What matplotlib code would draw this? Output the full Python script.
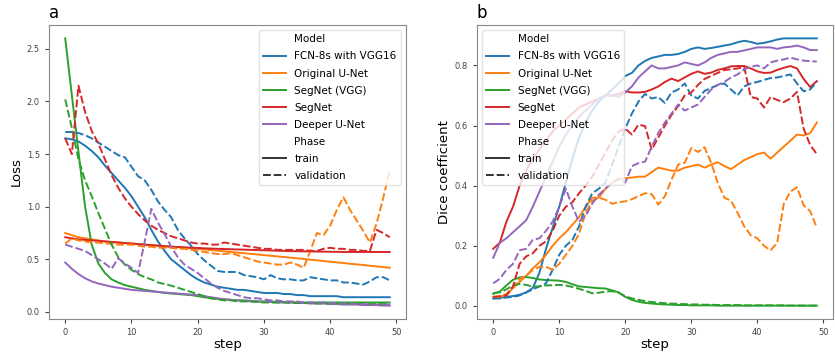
import matplotlib
matplotlib.use("Agg")
import matplotlib.pyplot as plt
from matplotlib.lines import Line2D
import numpy as np

steps = list(range(50))
models = ["FCN-8s with VGG16", "Original U-Net", "SegNet (VGG)", "SegNet", "Deeper U-Net"]
colors = ["#1f77b4", "#ff7f0e", "#2ca02c", "#d62728", "#9467bd"]

# ---------------- Panel a: Loss ----------------
fcn_train_loss = [1.65,1.64,1.62,1.58,1.53,1.47,1.39,1.32,1.25,1.18,1.10,1.00,0.90,0.78,0.67,0.58,0.50,0.45,0.40,0.35,
                  0.31,0.28,0.26,0.24,0.23,0.22,0.21,0.21,0.20,0.19,0.18,0.18,0.18,0.17,0.17,0.16,0.16,0.15,0.15,0.15,
                  0.15,0.15,0.14,0.14,0.14,0.14,0.14,0.14,0.14,0.14]
fcn_val_loss = [1.71,1.71,1.70,1.68,1.65,1.61,1.57,1.53,1.49,1.47,1.38,1.29,1.25,1.16,1.05,0.97,0.90,0.78,0.70,0.63,
                0.55,0.49,0.44,0.39,0.38,0.38,0.38,0.35,0.34,0.33,0.31,0.35,0.32,0.31,0.31,0.30,0.30,0.33,0.32,0.31,
                0.30,0.30,0.28,0.28,0.27,0.26,0.29,0.33,0.33,0.30]
unet_train_loss = [0.75,0.73,0.71,0.70,0.69,0.68,0.67,0.665,0.66,0.655,0.65,0.645,0.64,0.635,0.63,0.625,0.62,0.615,0.61,0.605,
                   0.60,0.594,0.588,0.582,0.576,0.57,0.564,0.558,0.552,0.546,0.54,0.534,0.528,0.522,0.516,0.51,0.504,0.497,0.491,0.484,
                   0.478,0.471,0.465,0.458,0.452,0.446,0.439,0.433,0.426,0.42]
unet_val_loss = [0.65,0.70,0.68,0.67,0.66,0.66,0.65,0.65,0.64,0.64,0.64,0.63,0.62,0.62,0.61,0.61,0.61,0.60,0.60,0.59,
                 0.58,0.57,0.56,0.55,0.55,0.56,0.54,0.52,0.50,0.48,0.47,0.46,0.45,0.45,0.47,0.45,0.42,0.58,0.75,0.73,
                 0.82,0.97,1.09,0.97,0.87,0.77,0.66,0.84,1.08,1.35]
segvgg_train_loss = [2.60,2.06,1.52,1.00,0.64,0.46,0.37,0.31,0.28,0.255,0.24,0.225,0.21,0.20,0.19,0.18,0.175,0.17,0.165,0.16,
                     0.15,0.14,0.13,0.125,0.12,0.115,0.11,0.11,0.105,0.10,0.10,0.10,0.095,0.095,0.095,0.09,0.09,0.09,0.09,0.09,
                     0.09,0.09,0.09,0.09,0.09,0.09,0.09,0.09,0.09,0.09]
segvgg_val_loss = [2.02,1.75,1.45,1.25,1.10,0.94,0.79,0.64,0.52,0.45,0.40,0.36,0.33,0.31,0.28,0.265,0.25,0.23,0.21,0.19,
                   0.17,0.15,0.13,0.12,0.11,0.11,0.10,0.10,0.10,0.095,0.09,0.09,0.09,0.09,0.085,0.085,0.085,0.085,0.08,0.08,
                   0.08,0.08,0.08,0.08,0.08,0.08,0.075,0.075,0.075,0.075]
segnet_train_loss = [0.71,0.70,0.69,0.685,0.68,0.675,0.67,0.665,0.66,0.655,0.65,0.645,0.64,0.635,0.63,0.625,0.62,0.617,0.614,0.611,
                     0.608,0.605,0.602,0.60,0.598,0.596,0.594,0.592,0.59,0.588,0.586,0.584,0.582,0.58,0.578,0.577,0.576,0.575,0.574,0.573,
                     0.572,0.571,0.57,0.57,0.57,0.57,0.57,0.57,0.57,0.57]
segnet_val_loss = [1.65,1.50,2.15,1.90,1.72,1.60,1.45,1.30,1.18,1.08,1.00,0.93,0.87,0.82,0.78,0.75,0.72,0.70,0.68,0.66,
                   0.65,0.65,0.64,0.64,0.66,0.65,0.64,0.63,0.62,0.61,0.60,0.60,0.59,0.59,0.59,0.59,0.59,0.58,0.58,0.60,
                   0.61,0.60,0.60,0.59,0.59,0.58,0.58,0.78,0.75,0.71]
deeper_train_loss = [0.47,0.41,0.36,0.32,0.29,0.27,0.255,0.24,0.23,0.22,0.21,0.205,0.20,0.195,0.19,0.185,0.18,0.175,0.17,0.165,
                     0.16,0.15,0.14,0.13,0.12,0.115,0.11,0.105,0.10,0.10,0.095,0.095,0.09,0.09,0.09,0.085,0.085,0.08,0.08,0.08,
                     0.075,0.075,0.07,0.07,0.07,0.065,0.065,0.065,0.06,0.06]
deeper_val_loss = [0.64,0.62,0.60,0.58,0.54,0.50,0.46,0.41,0.51,0.46,0.42,0.37,0.67,0.98,0.85,0.74,0.62,0.52,0.45,0.41,
                   0.37,0.32,0.27,0.23,0.20,0.18,0.16,0.14,0.13,0.13,0.12,0.11,0.11,0.10,0.10,0.10,0.09,0.09,0.09,0.09,
                   0.085,0.08,0.08,0.08,0.075,0.075,0.07,0.07,0.07,0.07]

# ---------------- Panel b: Dice coefficient ----------------
fcn_train_dice = [0.025,0.027,0.03,0.033,0.037,0.045,0.06,0.11,0.19,0.26,0.33,0.41,0.49,0.56,0.61,0.65,0.68,0.70,0.72,0.74,
                  0.765,0.775,0.80,0.815,0.825,0.83,0.835,0.835,0.838,0.845,0.855,0.86,0.855,0.858,0.862,0.866,0.87,0.877,0.882,0.878,
                  0.872,0.875,0.88,0.886,0.89,0.89,0.89,0.89,0.89,0.89]
fcn_val_dice = [0.025,0.025,0.028,0.03,0.035,0.045,0.055,0.065,0.075,0.12,0.17,0.20,0.22,0.265,0.33,0.375,0.39,0.41,0.47,0.53,
                0.59,0.64,0.68,0.705,0.69,0.695,0.675,0.71,0.72,0.74,0.70,0.69,0.715,0.725,0.735,0.74,0.72,0.70,0.73,0.74,
                0.745,0.752,0.758,0.76,0.765,0.77,0.74,0.714,0.72,0.745]
unet_train_dice = [0.03,0.032,0.035,0.06,0.08,0.10,0.125,0.145,0.17,0.20,0.225,0.245,0.27,0.295,0.33,0.36,0.36,0.39,0.41,0.42,
                   0.425,0.427,0.43,0.43,0.445,0.46,0.455,0.45,0.45,0.46,0.465,0.47,0.46,0.47,0.478,0.465,0.455,0.47,0.485,0.495,
                   0.505,0.51,0.49,0.51,0.53,0.55,0.57,0.567,0.575,0.61]
unet_val_dice = [0.03,0.03,0.04,0.06,0.09,0.10,0.12,0.13,0.13,0.12,0.14,0.17,0.20,0.24,0.31,0.35,0.36,0.353,0.34,0.345,
                 0.348,0.355,0.365,0.375,0.372,0.337,0.365,0.42,0.47,0.476,0.525,0.512,0.528,0.476,0.41,0.36,0.35,0.31,0.265,0.235,
                 0.225,0.20,0.185,0.21,0.34,0.38,0.395,0.335,0.315,0.26]
segvgg_train_dice = [0.04,0.048,0.068,0.087,0.095,0.096,0.093,0.088,0.086,0.085,0.084,0.08,0.072,0.065,0.063,0.061,0.059,0.058,0.052,0.045,
                     0.03,0.02,0.014,0.01,0.008,0.006,0.005,0.004,0.003,0.003,0.002,0.002,0.002,0.002,0.001,0.001,0.001,0.001,0.001,0.001,
                     0.001,0.001,0.001,0.001,0.001,0.001,0.001,0.001,0.001,0.001]
segvgg_val_dice = [0.043,0.045,0.055,0.068,0.073,0.07,0.064,0.065,0.068,0.069,0.07,0.068,0.063,0.057,0.05,0.042,0.044,0.048,0.049,0.044,
                   0.032,0.025,0.02,0.016,0.013,0.011,0.009,0.008,0.007,0.006,0.005,0.005,0.004,0.004,0.003,0.003,0.003,0.003,0.002,0.002,
                   0.002,0.002,0.002,0.002,0.002,0.001,0.001,0.001,0.001,0.001]
segnet_train_dice = [0.19,0.21,0.28,0.33,0.40,0.45,0.49,0.52,0.55,0.58,0.60,0.62,0.64,0.66,0.67,0.68,0.69,0.70,0.70,0.705,
                     0.714,0.71,0.71,0.712,0.72,0.73,0.745,0.756,0.748,0.76,0.772,0.78,0.772,0.776,0.785,0.79,0.797,0.798,0.798,0.79,
                     0.78,0.775,0.776,0.785,0.792,0.798,0.79,0.755,0.728,0.748]
segnet_val_dice = [0.03,0.032,0.035,0.065,0.14,0.165,0.175,0.20,0.215,0.25,0.30,0.33,0.345,0.375,0.40,0.43,0.47,0.51,0.55,0.58,
                   0.59,0.57,0.603,0.598,0.52,0.56,0.60,0.635,0.665,0.70,0.71,0.735,0.755,0.765,0.775,0.785,0.787,0.79,0.795,0.695,
                   0.69,0.66,0.695,0.685,0.678,0.69,0.712,0.59,0.535,0.505]
deeper_train_dice = [0.16,0.21,0.225,0.245,0.265,0.285,0.33,0.38,0.43,0.48,0.53,0.57,0.60,0.63,0.65,0.67,0.69,0.70,0.70,0.695,
                     0.71,0.73,0.76,0.78,0.80,0.79,0.79,0.795,0.80,0.81,0.805,0.80,0.81,0.825,0.835,0.84,0.845,0.845,0.85,0.855,
                     0.86,0.86,0.86,0.855,0.86,0.862,0.866,0.86,0.851,0.851]
deeper_val_dice = [0.075,0.09,0.12,0.14,0.185,0.19,0.22,0.225,0.25,0.28,0.33,0.39,0.33,0.28,0.30,0.34,0.37,0.39,0.41,0.425,
                   0.41,0.465,0.475,0.48,0.53,0.575,0.61,0.64,0.67,0.65,0.66,0.67,0.695,0.72,0.735,0.745,0.76,0.77,0.787,0.795,
                   0.80,0.79,0.81,0.816,0.82,0.826,0.82,0.816,0.814,0.813]

loss_train = [fcn_train_loss, unet_train_loss, segvgg_train_loss, segnet_train_loss, deeper_train_loss]
loss_val = [fcn_val_loss, unet_val_loss, segvgg_val_loss, segnet_val_loss, deeper_val_loss]
dice_train = [fcn_train_dice, unet_train_dice, segvgg_train_dice, segnet_train_dice, deeper_train_dice]
dice_val = [fcn_val_dice, unet_val_dice, segvgg_val_dice, segnet_val_dice, deeper_val_dice]

W, H = 835, 360
fig = plt.figure(figsize=(W / 100, H / 100), dpi=100)
ax1 = fig.add_axes([49 / W, 1 - 319 / H, (406 - 49) / W, (319 - 25) / H])
ax2 = fig.add_axes([477 / W, 1 - 319 / H, (833 - 477) / W, (319 - 25) / H])

DASH = (4, 1.5)
LW = 1.4


def draw(ax, train, val):
    for tr, c in zip(train, colors):
        ax.plot(steps, tr, color=c, lw=LW)
    for va, c in zip(val, colors):
        ax.plot(steps, va, color=c, lw=LW, dashes=DASH)


draw(ax1, loss_train, loss_val)
draw(ax2, dice_train, dice_val)


def legend(ax, loc):
    blank = Line2D([], [], color="none")
    handles = [blank] + [Line2D([], [], color=c, lw=LW) for c in colors] + [blank,
               Line2D([], [], color="#333333", lw=LW),
               Line2D([], [], color="#333333", lw=LW, dashes=DASH)]
    labels = ["Model"] + models + ["Phase", "train", "validation"]
    ax.legend(handles, labels, loc=loc, fontsize=7.5, framealpha=0.8,
              edgecolor="#dddddd", labelspacing=0.68, handlelength=2.2)


legend(ax1, "upper right")
legend(ax2, "upper left")

for ax, lab, ttl in [(ax1, "Loss", "a"), (ax2, "Dice coefficient", "b")]:
    ax.set_xlabel("step", fontsize=9.5, labelpad=1)
    ax.set_ylabel(lab, fontsize=9.5, labelpad=3)
    ax.set_title(ttl, loc="left", fontsize=12, pad=5)
    ax.tick_params(labelsize=6, colors="#444444", length=3)
    for s in ax.spines.values():
        s.set_color("#888888")

ax1.set_xticks([0, 10, 20, 30, 40, 50])
ax2.set_xticks([0, 10, 20, 30, 40, 50])
ax1.set_yticks([0.0, 0.5, 1.0, 1.5, 2.0, 2.5])
ax2.set_yticks([0.0, 0.2, 0.4, 0.6, 0.8])

fig.savefig("out.png", dpi=100)
